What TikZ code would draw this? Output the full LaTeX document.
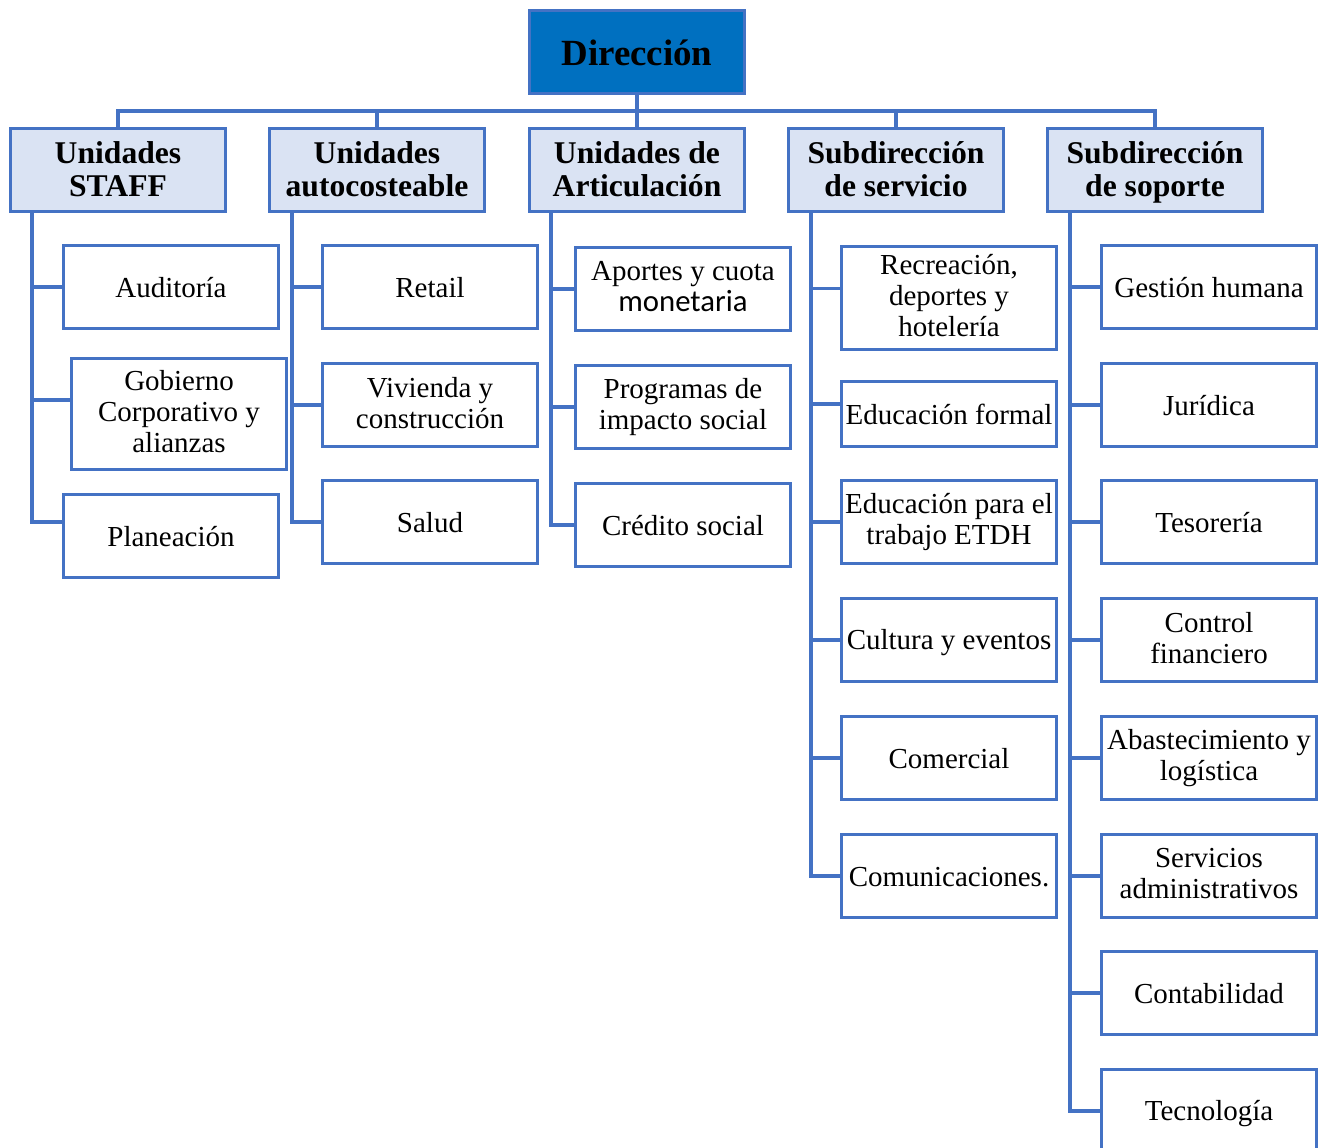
\documentclass[tikz,border=0pt]{standalone}
\usepackage{fontspec}
\setmainfont{Liberation Serif}
\newfontfamily\calibri{Carlito}
\definecolor{lineblue}{HTML}{4472C4}
\definecolor{topblue}{HTML}{0070C0}
\definecolor{headblue}{HTML}{DAE3F3}
\newcommand{\strutdrop}{0.16}
\newcommand{\boxstrut}{\rule[-\strutdrop\baselineskip]{0pt}{\baselineskip}}
\tikzset{
  box/.style={draw=lineblue, line width=1.7pt, rectangle, align=center,
    inner xsep=0pt, inner ysep=1pt, minimum width=4.3cm, minimum height=1.66cm,
    execute at begin node=\boxstrut, execute at end node=\boxstrut},
  topbox/.style={box, fill=topblue, font=\fontsize{21}{23}\selectfont\bfseries},
  headbox/.style={box, fill=headblue, text depth=1.1pt,
    font=\renewcommand{\strutdrop}{0.06}\fontsize{18}{19}\selectfont\bfseries},
  unitbox/.style={box, fill=white, font=\fontsize{16.5}{17.6}\selectfont},
  conn/.style={draw=lineblue, line width=1.9pt}
}
\begin{document}
\begin{tikzpicture}[x=0.02cm, y=-0.02cm]
  \useasboundingbox (0,0) rectangle (1322,1148);
  \clip (0,0) rectangle (1322,1148);

  % top and heads
  \node[topbox] (dir) at (637,52) {Dirección};
  \node[headbox] (staff)    at (118,170)  {Unidades\\STAFF};
  \node[headbox] (auto)     at (377,170)  {Unidades\\autocosteable};
  \node[headbox] (artic)    at (637,170)  {Unidades de\\Articulación};
  \node[headbox] (servicio) at (896,170)  {Subdirección\\de servicio};
  \node[headbox] (soporte)  at (1155,170) {Subdirección\\de soporte};

  % STAFF
  \node[unitbox] (aud)  at (171,287) {Auditoría};
  \node[unitbox, minimum height=2.22cm] (gob) at (179,414) {Gobierno\\Corporativo y\\alianzas};
  \node[unitbox] (plan) at (171,536) {Planeación};

  % autocosteable
  \node[unitbox] (retail) at (430,287) {Retail};
  \node[unitbox] (viv)    at (430,405) {Vivienda y\\construcción};
  \node[unitbox] (salud)  at (430,522) {Salud};

  % articulacion
  \node[unitbox] (aportes) at (683,289) {Aportes y cuota\\{\calibri\fontsize{17.5}{17.6}\selectfont monetaria}};
  \node[unitbox] (prog)    at (683,407) {Programas de\\impacto social};
  \node[unitbox] (cred)    at (683,525) {Crédito social};

  % servicio
  \node[unitbox, minimum height=2.06cm] (recr) at (949,298) {Recreación,\\deportes y\\hotelería};
  \node[unitbox, minimum height=1.3cm] (edu) at (949,414) {Educación formal};
  \node[unitbox] (etdh)  at (949,522) {Educación para el\\trabajo ETDH};
  \node[unitbox] (cult)  at (949,640) {Cultura y eventos};
  \node[unitbox] (com)   at (949,758) {Comercial};
  \node[unitbox] (comu)  at (949,876) {Comunicaciones.};

  % soporte
  \node[unitbox] (gest)  at (1209,287)  {Gestión humana};
  \node[unitbox] (jur)   at (1209,405)  {Jurídica};
  \node[unitbox] (tes)   at (1209,522)  {Tesorería};
  \node[unitbox] (ctrl)  at (1209,640)  {Control\\financiero};
  \node[unitbox] (abas)  at (1209,758)  {Abastecimiento y\\logística};
  \node[unitbox] (serv)  at (1209,876)  {Servicios\\administrativos};
  \node[unitbox] (cont)  at (1209,993)  {Contabilidad};
  \node[unitbox] (tec)   at (1209,1111) {Tecnología};

  % connectors
  \coordinate (bar) at (0,111);
  \coordinate (trunkA) at (32,0);
  \coordinate (trunkB) at (292,0);
  \coordinate (trunkC) at (551,0);
  \coordinate (trunkD) at (811,0);
  \coordinate (trunkE) at (1070,0);
  \draw[conn] (dir.south) -- (dir.south |- bar);
  \draw[conn] (staff.north) -- (staff.north |- bar) -| (soporte.north);
  \foreach \n in {auto,artic,servicio}
    \draw[conn] (\n.north) -- (\n.north |- bar);
  \foreach \c/\s in {aud/0,gob/8,plan/8}
    \draw[conn] (staff.south -| trunkA) |- ([yshift=\s pt]\c.west);
  \foreach \c in {retail,viv,salud}
    \draw[conn] (auto.south -| trunkB) |- (\c.west);
  \foreach \c in {aportes,prog,cred}
    \draw[conn] (artic.south -| trunkC) |- (\c.west);
  \foreach \c/\s in {recr/5.4,edu/5.7,etdh/0,cult/0,com/0,comu/0}
    \draw[conn] (servicio.south -| trunkD) |- ([yshift=\s pt]\c.west);
  \foreach \c in {gest,jur,tes,ctrl,abas,serv,cont,tec}
    \draw[conn] (soporte.south -| trunkE) |- (\c.west);
\end{tikzpicture}
\end{document}
